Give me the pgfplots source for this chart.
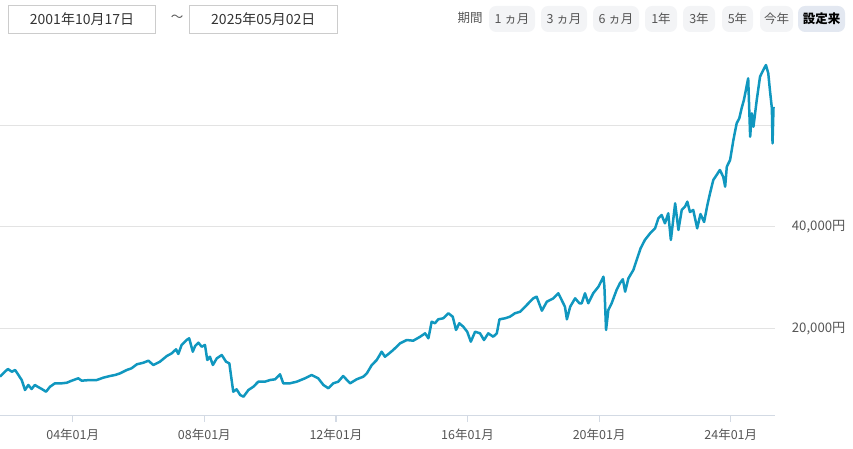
\documentclass[border=0pt]{standalone}
\usepackage{fontspec}
\setmainfont{Noto Sans CJK JP}
\usepackage{pgfplots}
\pgfplotsset{compat=1.18}

\definecolor{linec}{HTML}{1097BF}
\definecolor{gridc}{HTML}{E3E3E3}
\definecolor{axisc}{HTML}{D3DAE4}
\definecolor{labc}{HTML}{555555}
\definecolor{boxc}{HTML}{CCCCCC}
\definecolor{btnc}{HTML}{F3F4F6}
\definecolor{btnsel}{HTML}{E3E8F1}

\begin{document}
\begin{tikzpicture}[x=1pt,y=1pt]
\fontsize{12.5}{14}\selectfont

% date range boxes
\draw[boxc, line width=1] (8.3,443) rectangle (155.7,415.7);
\node[text=black!80, font=\fontsize{14}{16}\selectfont] at (82,429.5) {2001年10月17日};
\node[text=labc] at (177,431) {～};
\draw[boxc, line width=1] (189.3,443) rectangle (337.3,415.7);
\node[text=black!80, font=\fontsize{14}{16}\selectfont] at (263.3,429.5) {2025年05月02日};

% period buttons
\node[text=labc] at (470,431) {期間};
\foreach \a/\b/\t in {489/535/1 ヵ月, 541/587/3 ヵ月, 593/639/6 ヵ月, 645/677/1年, 683/715/3年, 722/753/5年, 760/793/今年}{
  \fill[btnc, rounded corners=7] (\a,443) rectangle (\b,417);
  \node[text=labc] at ({(\a+\b)/2},430) {\t};
}
\fill[btnsel, rounded corners=7] (798,443) rectangle (845,417);
\node[text=black] at (821.5,430) {\bfseries 設定来};

\begin{axis}[
  at={(0pt,33.3pt)}, anchor=south west,
  scale only axis, width=774.5pt, height=370.7pt,
  xmin=2001.79, xmax=2025.33,
  ymin=2780, ymax=75820,
  scaled y ticks=false,
  axis x line*=bottom,
  axis y line*=right,
  y axis line style={draw=none},
  x axis line style={axisc, line width=1.4},
  xtick={2004,2008,2012,2016,2020,2024},
  xticklabels={04年01月,08年01月,12年01月,16年01月,20年01月,24年01月},
  tick align=outside,
  major tick length=6,
  xtick style={axisc, line width=1.2},
  ytick={20000,40000,60000},
  yticklabels={{20,000円},{40,000円},{}},
  ytick style={draw=none},
  ymajorgrids,
  grid style={gridc, line width=0.9},
  ticklabel style={text=labc, font=\fontsize{12.5}{14}\selectfont},
  xticklabel style={yshift=-3},
  yticklabel style={xshift=7, font=\fontsize{13.2}{15}\selectfont},
  clip=false,
]
\addplot[linec, line width=2.5, line join=round] table {
2001.79 10460
2001.94 11450
2002.03 11980
2002.15 11450
2002.25 11780
2002.35 10800
2002.45 9810
2002.55 7840
2002.65 8830
2002.75 8040
2002.85 8830
2002.95 8430
2003.06 8040
2003.19 7510
2003.31 8490
2003.46 9160
2003.67 9160
2003.82 9280
2003.97 9680
2004.17 10150
2004.27 9680
2004.53 9810
2004.73 9810
2004.93 10270
2005.13 10600
2005.29 10800
2005.44 11130
2005.64 11780
2005.79 12120
2005.95 12910
2006.15 13220
2006.30 13620
2006.45 12770
2006.65 13420
2006.86 14540
2007.01 15070
2007.14 15860
2007.21 14940
2007.31 16710
2007.46 17690
2007.54 18030
2007.65 15390
2007.72 16510
2007.82 17160
2007.92 16370
2008.02 16710
2008.09 13750
2008.17 14400
2008.26 12770
2008.38 14090
2008.53 14740
2008.66 13420
2008.76 13100
2008.83 9810
2008.88 7510
2008.98 7980
2009.09 6860
2009.19 6520
2009.34 7840
2009.49 8490
2009.64 9480
2009.84 9480
2010.00 9810
2010.15 9950
2010.30 10940
2010.40 9160
2010.60 9160
2010.81 9480
2011.06 10150
2011.26 10800
2011.46 10150
2011.62 8830
2011.77 8180
2011.92 9160
2012.07 9480
2012.22 10600
2012.43 9160
2012.63 9950
2012.83 10460
2012.94 11130
2013.09 12770
2013.24 13750
2013.39 15390
2013.49 14400
2013.62 15070
2013.74 15720
2013.95 17040
2014.15 17690
2014.35 17560
2014.56 18340
2014.71 19010
2014.81 18030
2014.91 21300
2015.01 20990
2015.11 21770
2015.26 21970
2015.42 22960
2015.55 22290
2015.65 19670
2015.75 20990
2015.87 20320
2015.99 19330
2016.10 17360
2016.23 19330
2016.38 19010
2016.50 17690
2016.63 19010
2016.78 18340
2016.89 19010
2016.97 21770
2017.14 21970
2017.29 22290
2017.44 22960
2017.60 23270
2017.80 24590
2018.00 25910
2018.10 26230
2018.26 23470
2018.41 25240
2018.61 25910
2018.76 26900
2018.86 25580
2018.96 24260
2019.02 21770
2019.12 24260
2019.27 25910
2019.40 24930
2019.47 24930
2019.57 26900
2019.67 24930
2019.82 26900
2019.98 28200
2020.13 30170
2020.16 28200
2020.21 19670
2020.28 23610
2020.38 24930
2020.53 27550
2020.63 28870
2020.72 29660
2020.79 27210
2020.89 29850
2021.04 31490
2021.14 33460
2021.26 35760
2021.39 37400
2021.55 38720
2021.70 39700
2021.80 41670
2021.90 42320
2022.00 40690
2022.10 42660
2022.18 37400
2022.31 44630
2022.41 39370
2022.51 43310
2022.61 43960
2022.68 44950
2022.76 42920
2022.86 43310
2022.98 39700
2023.08 42520
2023.19 40950
2023.29 44300
2023.37 46600
2023.47 49220
2023.57 50210
2023.67 51190
2023.77 49870
2023.83 47900
2023.88 51840
2023.98 53160
2024.08 57100
2024.18 60390
2024.26 61380
2024.33 63350
2024.40 64980
2024.47 67290
2024.53 69260
2024.59 57750
2024.64 62360
2024.69 59720
2024.79 64980
2024.89 69580
2024.99 70900
2025.07 71880
2025.14 70250
2025.19 66950
2025.25 63350
2025.27 56450
2025.30 63610
};
\end{axis}
\pgfresetboundingbox
\path (0,0) rectangle (853,449);
\end{tikzpicture}
\end{document}
